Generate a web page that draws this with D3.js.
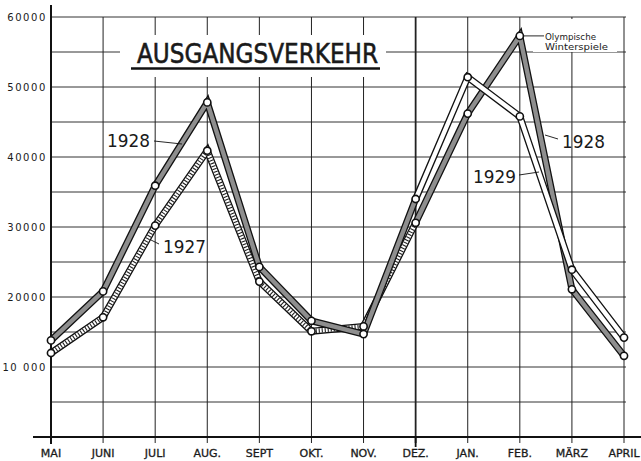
<!DOCTYPE html>
<html>
<head>
    <title>Ausgangsverkehr</title>
    <style>
        body { margin: 0; background: #fff; }
        text { font-family: "DejaVu Sans", sans-serif; fill: #1a1a1a; }
    </style>
    <script src="https://d3js.org/d3.v7.min.js"></script>
</head>
<body>
<script type="text/javascript">

    // months on the x axis (Mai .. April)
    var months = ['MAI', 'JUNI', 'JULI', 'AUG.', 'SEPT', 'OKT.', 'NOV.', 'DEZ.', 'JAN.', 'FEB.', 'MÄRZ', 'APRIL'];

    // 1927, Mai - Dez (hatched)
    var months1927 = ['MAI', 'JUNI', 'JULI', 'AUG.', 'SEPT', 'OKT.', 'NOV.', 'DEZ.'];
    var values1927 = [12000, 17100, 30200, 40900, 22200, 15100, 15800, 30600];

    // 1928, Jan - April (grey, continues from Dez 1927)
    var months1928a = ['JAN.', 'FEB.', 'MÄRZ', 'APRIL'];
    var values1928a = [46200, 57300, 21100, 11600];

    // 1928, Mai - Dez (grey)
    var months1928b = ['MAI', 'JUNI', 'JULI', 'AUG.', 'SEPT', 'OKT.', 'NOV.', 'DEZ.'];
    var values1928b = [13800, 20800, 35900, 47800, 24300, 16600, 14700, 34000];

    // 1929, Jan - April (white, continues from Dez 1928)
    var months1929 = ['JAN.', 'FEB.', 'MÄRZ', 'APRIL'];
    var values1929 = [51400, 45800, 23900, 14200];

    var yTicks = [10000, 20000, 30000, 40000, 50000, 60000];
    var yTickLabels = ['10 000', '20000', '30000', '40000', '50000', '60000'];

    var svg = d3.select('body')
                    .append('svg')
                    .attr('width', 641)
                    .attr('height', 461);

    var x = d3.scalePoint().domain(months).range([51, 624]);
    var y = d3.scaleLinear().domain([0, 60000]).range([437, 17]);

    // grid
    var grid = svg.append('g');
    grid.selectAll('line.h')
            .data(d3.range(5000, 60001, 5000))
            .enter()
            .append('line')
            .attr('x1', 51).attr('x2', 626)
            .attr('y1', function(d) { return y(d); })
            .attr('y2', function(d) { return y(d); })
            .attr('stroke', '#333').attr('stroke-width', 1);
    grid.selectAll('line.v')
            .data(months)
            .enter()
            .append('line')
            .attr('x1', function(d) { return x(d); })
            .attr('x2', function(d) { return x(d); })
            .attr('y1', y(60000)).attr('y2', 443)
            .attr('stroke', '#222')
            .attr('stroke-width', function(d) { return d === 'DEZ.' ? 1.8 : 1; });

    // white patches behind title and note
    svg.append('rect').attr('x', 120).attr('y', 35).attr('width', 266).attr('height', 42).attr('fill', '#fff');
    svg.append('rect').attr('x', 533).attr('y', 19).attr('width', 84).attr('height', 33).attr('fill', '#fff');

    // axes
    svg.append('line').attr('x1', 51).attr('x2', 51).attr('y1', 5).attr('y2', 444)
            .attr('stroke', '#111').attr('stroke-width', 2);
    svg.append('line').attr('x1', 33).attr('x2', 641).attr('y1', 437).attr('y2', 437)
            .attr('stroke', '#111').attr('stroke-width', 2);
    svg.append('line').attr('x1', x('DEZ.')).attr('x2', x('DEZ.')).attr('y1', 437).attr('y2', 447)
            .attr('stroke', '#111').attr('stroke-width', 1.8);

    svg.selectAll('text.ytick')
            .data(yTicks)
            .enter()
            .append('text')
            .attr('x', 47)
            .attr('y', function(d) { return y(d) + 4; })
            .attr('text-anchor', 'end')
            .attr('font-size', 10)
            .attr('letter-spacing', 1.6)
            .text(function(d, i) { return yTickLabels[i]; });

    svg.selectAll('text.xtick')
            .data(months)
            .enter()
            .append('text')
            .attr('x', function(d) { return x(d); })
            .attr('y', 457)
            .attr('text-anchor', 'middle')
            .attr('font-size', 11)
            .attr('stroke', '#1a1a1a')
            .attr('stroke-width', 0.3)
            .text(function(d) { return d; });

    // title
    svg.append('text')
            .attr('x', 137).attr('y', 63)
            .attr('font-size', 27)
            .attr('textLength', 241)
            .attr('lengthAdjust', 'spacingAndGlyphs')
            .attr('stroke', '#1a1a1a').attr('stroke-width', 0.6)
            .text('AUSGANGSVERKEHR');
    svg.append('line').attr('x1', 131).attr('x2', 380).attr('y1', 68.5).attr('y2', 68.5)
            .attr('stroke', '#111').attr('stroke-width', 2.5);

    // series lines
    function pts(ms, vs) {
        return ms.map(function(m, i) { return [x(m), y(vs[i])]; });
    }
    var line = d3.line();
    var bands = [
        {p: pts(months1927, values1927), fill: '#fff', hatch: true},
        {p: [[x('DEZ.'), y(values1927[7])]].concat(pts(months1928a, values1928a)), fill: '#8e8e8e'},
        {p: pts(months1928b, values1928b), fill: '#8e8e8e'},
        {p: [[x('DEZ.'), y(values1928b[7])]].concat(pts(months1929, values1929)), fill: '#fff'}
    ];
    var bg = svg.append('g');
    bands.forEach(function(b) {
        bg.append('path').attr('d', line(b.p))
                .attr('fill', 'none').attr('stroke', '#111').attr('stroke-width', 7)
                .attr('stroke-linejoin', 'miter').attr('stroke-miterlimit', 5);
        bg.append('path').attr('d', line(b.p))
                .attr('fill', 'none').attr('stroke', b.fill).attr('stroke-width', 4.4)
                .attr('stroke-linejoin', 'miter').attr('stroke-miterlimit', 5);
        if (b.hatch) {
            // stripes across the band
            bg.append('path').attr('d', line(b.p))
                    .attr('fill', 'none').attr('stroke', '#222').attr('stroke-width', 4.4)
                    .attr('stroke-dasharray', '1.1 1.9');
        }
    });

    // points
    var allPts = pts(months1927, values1927)
            .concat(pts(months1928a, values1928a))
            .concat(pts(months1928b, values1928b))
            .concat(pts(months1929, values1929));
    svg.selectAll('circle')
            .data(allPts)
            .enter()
            .append('circle')
            .attr('cx', function(d) { return d[0]; })
            .attr('cy', function(d) { return d[1]; })
            .attr('r', 3.6)
            .attr('fill', '#fff')
            .attr('stroke', '#111')
            .attr('stroke-width', 1.6);

    // labels with leader lines
    var labels = [
        {t: '1928', x: 107, y: 147, lx1: 154, ly1: 141, lx2: 182, ly2: 144},
        {t: '1927', x: 163, y: 253, lx1: 159, ly1: 244, lx2: 151, ly2: 240},
        {t: '1928', x: 562, y: 148, lx1: 558, ly1: 139, lx2: 545, ly2: 135},
        {t: '1929', x: 473, y: 183, lx1: 519, ly1: 175, lx2: 539, ly2: 172}
    ];
    labels.forEach(function(l) {
        svg.append('text').attr('x', l.x).attr('y', l.y)
                .attr('font-size', 17).attr('textLength', 43)
                .attr('lengthAdjust', 'spacingAndGlyphs')
                .text(l.t);
        svg.append('line').attr('x1', l.lx1).attr('y1', l.ly1).attr('x2', l.lx2).attr('y2', l.ly2)
                .attr('stroke', '#111').attr('stroke-width', 0.9);
    });

    svg.append('line').attr('x1', x('FEB.') + 4).attr('y1', y(values1928a[1]))
            .attr('x2', 544).attr('y2', y(values1928a[1]))
            .attr('stroke', '#111').attr('stroke-width', 0.9);
    svg.append('text').attr('x', 545).attr('y', 40).attr('font-size', 8.5)
            .attr('textLength', 51).attr('lengthAdjust', 'spacingAndGlyphs').text('Olympische');
    svg.append('text').attr('x', 545).attr('y', 49.5).attr('font-size', 8.5)
            .attr('textLength', 63).attr('lengthAdjust', 'spacingAndGlyphs').text('Winterspiele');

</script>
</body>
</html>
